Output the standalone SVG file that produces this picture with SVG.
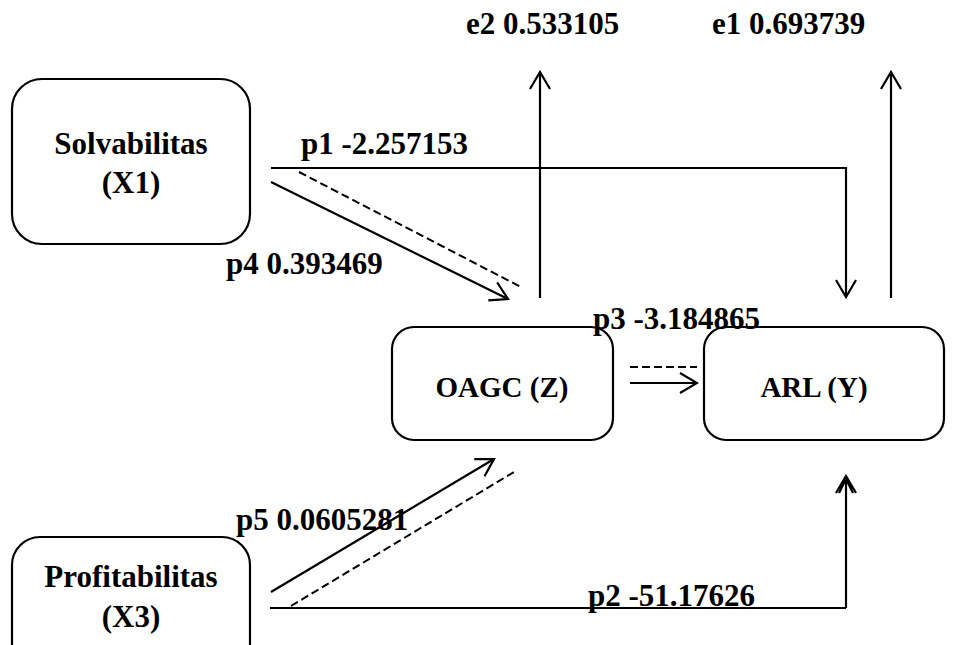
<svg xmlns="http://www.w3.org/2000/svg" width="957" height="645" viewBox="0 0 957 645">
<style>
.box{fill:#fff;stroke:#000;stroke-width:2.2}
.lbl{font-family:"Liberation Serif","Times New Roman",serif;font-weight:bold;fill:#000}
.nl{font-size:31px;text-anchor:middle}
.el{font-size:31px}
.ln{fill:none;stroke:#000;stroke-width:2.2}
.dash{fill:none;stroke:#000;stroke-width:2;stroke-dasharray:8,4}
</style>
<defs>
<marker id="arr" viewBox="0 0 20 22" refX="18" refY="11" markerWidth="20" markerHeight="22" orient="auto" markerUnits="userSpaceOnUse">
<path d="M1,1 L18,11 L1,21" fill="none" stroke="#000" stroke-width="2.2"/>
</marker>
<marker id="arr2" viewBox="0 0 20 22" refX="18" refY="11" markerWidth="20" markerHeight="22" orient="auto" markerUnits="userSpaceOnUse">
<path d="M1,1 L18,11 L1,21 M1,4 L15,11 L1,18" fill="none" stroke="#000" stroke-width="2.2"/>
</marker>
</defs>
<rect width="957" height="645" fill="#fff"/>
<g id="connectors">
<polyline class="ln" points="271,168 846,168 846,297" stroke-width="1.6" marker-end="url(#arr)"/>
<line class="ln" x1="271" y1="182" x2="508" y2="299" marker-end="url(#arr)"/>
<line class="dash" x1="299" y1="172" x2="521" y2="287"/>
<line class="ln" x1="540" y1="298" x2="540" y2="72" marker-end="url(#arr)"/>
<line class="ln" x1="891" y1="298" x2="891" y2="72" marker-end="url(#arr)"/>
<line class="dash" x1="630" y1="367" x2="697" y2="367"/>
<line class="ln" x1="630" y1="383" x2="697" y2="383" marker-end="url(#arr)"/>
<line class="ln" x1="271" y1="592" x2="494" y2="459" marker-end="url(#arr)"/>
<line class="dash" x1="291" y1="606" x2="514" y2="472"/>
<polyline class="ln" points="270,608 846,608" stroke-width="1.8"/>
<line class="ln" x1="846" y1="608" x2="846" y2="476" stroke-width="2.6" marker-end="url(#arr2)"/>
</g>
<g id="solvabilitas">
<rect class="box" x="12" y="79" width="238" height="165" rx="30"/>
<text class="lbl nl" x="131" y="154">Solvabilitas</text>
<text class="lbl nl" x="131" y="193">(X1)</text>
</g>
<g id="oagc">
<rect class="box" x="392" y="327" width="221" height="113" rx="22"/>
<text class="lbl nl" x="502" y="397" style="font-size:29px">OAGC (Z)</text>
</g>
<g id="arl">
<rect class="box" x="704" y="327" width="240" height="113" rx="22"/>
<text class="lbl nl" x="814" y="397" style="font-size:29px">ARL (Y)</text>
</g>
<g id="profitabilitas">
<rect class="box" x="12" y="537" width="238" height="140" rx="28"/>
<text class="lbl nl" x="131" y="587">Profitabilitas</text>
<text class="lbl nl" x="131" y="627">(X3)</text>
</g>
<g id="labels">
<text class="lbl el" x="301" y="154">p1 -2.257153</text>
<text class="lbl el" x="226" y="274">p4 0.393469</text>
<text class="lbl el" x="593" y="329">p3 -3.184865</text>
<text class="lbl el" x="236" y="530">p5 0.0605281</text>
<text class="lbl el" x="588" y="606">p2 -51.17626</text>
<text class="lbl el" x="466" y="34">e2 0.533105</text>
<text class="lbl el" x="712" y="34">e1 0.693739</text>
</g>
</svg>
